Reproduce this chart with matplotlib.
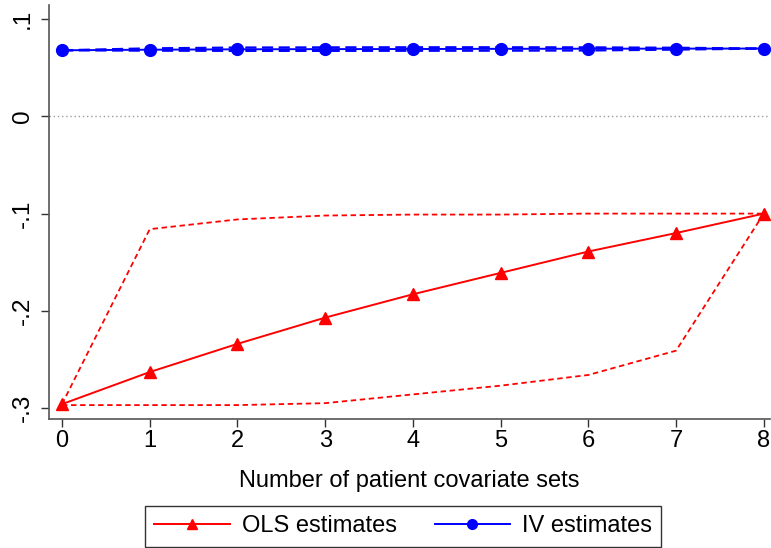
import matplotlib
matplotlib.use("Agg")
import matplotlib.pyplot as plt
from matplotlib import font_manager

# Number of covariate sets added to the model
covariate_sets = [0, 1, 2, 3, 4, 5, 6, 7, 8]

# OLS point estimates and the range of bounds across specifications
ols_est = [-0.296, -0.263, -0.234, -0.207, -0.183, -0.161, -0.139, -0.120, -0.100]
ols_upper = [-0.296, -0.116, -0.106, -0.102, -0.101, -0.101, -0.100, -0.100, -0.100]
ols_lower = [-0.297, -0.297, -0.297, -0.295, -0.286, -0.277, -0.266, -0.241, -0.100]

# IV point estimates and bounds
iv_est = [0.0680, 0.0686, 0.0690, 0.0692, 0.0693, 0.0695, 0.0696, 0.0697, 0.0698]
iv_upper = [0.0680, 0.0700, 0.0708, 0.0710, 0.0711, 0.0711, 0.0710, 0.0706, 0.0698]
iv_lower = [0.0680, 0.0676, 0.0674, 0.0674, 0.0675, 0.0676, 0.0678, 0.0687, 0.0698]

xticks = [0, 1, 2, 3, 4, 5, 6, 7, 8]
yticks = [-0.3, -0.2, -0.1, 0.0, 0.1]
ytick_labels = ["-.3", "-.2", "-.1", "0", ".1"]

names = {f.name for f in font_manager.fontManager.ttflist}
narrow = "Liberation Sans Narrow" if "Liberation Sans Narrow" in names else "Liberation Sans"
plt.rcParams["font.family"] = ["Liberation Sans", "DejaVu Sans"]

fig = plt.figure(figsize=(7.71, 5.48), dpi=100)
ax = fig.add_axes([0.0636, 0.2354, 0.935, 0.7555])

ax.axhline(0, color="#9a9a9a", linestyle=(0, (1, 2)), linewidth=1.0, zorder=1)

# OLS
ax.plot(covariate_sets, ols_upper, color="red", linestyle=(0, (3, 2)), linewidth=1.3, zorder=2)
ax.plot(covariate_sets, ols_lower, color="red", linestyle=(0, (3, 2)), linewidth=1.3, zorder=2)
ols_line, = ax.plot(covariate_sets, ols_est, color="red", marker="^", markersize=8,
                    linewidth=1.4, zorder=3, label="OLS estimates")

# IV
ax.plot(covariate_sets, iv_upper, color="blue", linestyle=(0, (5, 2.5)), linewidth=1.6, zorder=2)
ax.plot(covariate_sets, iv_lower, color="blue", linestyle=(0, (5, 2.5)), linewidth=1.6, zorder=2)
iv_line, = ax.plot(covariate_sets, iv_est, color="blue", marker="o", markersize=8.5,
                   linewidth=1.4, zorder=3, label="IV estimates")

ax.set_xlim(-0.148, 8.07)
ax.set_ylim(-0.3113, 0.1146)

ax.set_xticks(xticks)
ax.set_xticklabels([str(v) for v in xticks], fontsize=17, family=narrow)
ax.set_yticks(yticks)
ax.set_yticklabels(ytick_labels, fontsize=17.5, rotation=90, va="center")
ax.tick_params(axis="both", direction="out", length=6, width=1, color="#333333")
ax.tick_params(axis="x", pad=2)
ax.tick_params(axis="y", pad=5)

ax.set_xlabel("Number of patient covariate sets", fontsize=17, family=narrow, labelpad=13)

for side in ("top", "right"):
    ax.spines[side].set_visible(False)
for side in ("left", "bottom"):
    ax.spines[side].set_color("#555555")
    ax.spines[side].set_linewidth(1.2)

leg = fig.legend(handles=[ols_line, iv_line], loc="center", ncol=2,
                 bbox_to_anchor=(0.523, 0.040), frameon=True, fancybox=False,
                 fontsize=17, handlelength=3.2, columnspacing=1.6,
                 handletextpad=0.5, borderpad=0.4, numpoints=1)
leg.get_frame().set_edgecolor("black")
leg.get_frame().set_linewidth(1.0)
for h in leg.legend_handles:
    h.set_markersize(7)

fig.savefig("out.png", dpi=100, facecolor="white")
